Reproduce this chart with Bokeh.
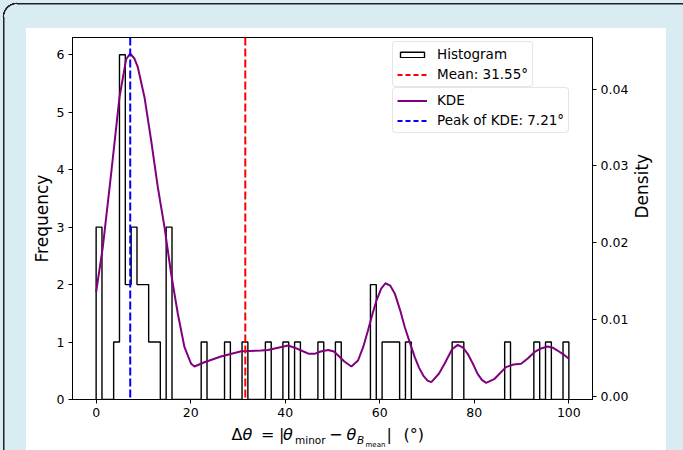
import math
import numpy as np
from bokeh.plotting import figure
from bokeh.layouts import column
from bokeh.models import (Range1d, LinearAxis, FixedTicker, NumeralTickFormatter, Span,
                          Legend, LegendItem, Div)
from bokeh.embed import file_html
from bokeh.resources import INLINE

# ---------------- data ----------------
hist_range = (0.0, 100.0)
hist_nbins = 81
hist_counts = [3, 0, 0, 1, 6, 2, 3, 2, 2, 1,
               1, 0, 3, 0, 0, 0, 0, 0, 1, 0,
               0, 0, 1, 0, 0, 1, 0, 0, 0, 1,
               0, 0, 1, 0, 1, 0, 0, 0, 1, 0,
               0, 1, 0, 0, 0, 0, 0, 2, 0, 1,
               1, 1, 0, 1, 0, 0, 0, 0, 0, 0,
               0, 1, 1, 0, 0, 0, 0, 0, 0, 0,
               1, 0, 0, 0, 0, 1, 0, 1, 0, 0,
               1]

kde_x = [0.0, 1.41, 3.17, 4.94, 6.35, 7.21, 8.1, 8.82, 10.23, 11.64, 13.05,
         14.46, 15.87, 17.28, 18.69, 20.1, 20.8, 22.9, 26.4, 30.7, 34.9,
         36.3, 38.5, 40.6, 42.0, 43.4, 45.0, 46.2, 47.5, 49.1, 50.3,
         51.2, 52.5, 54.0, 55.4, 56.5, 57.5, 58.5, 59.3, 60.3, 61.2,
         62.2, 63.2, 64.3, 65.3, 66.4, 67.4, 68.3, 69.2, 70.1, 70.9,
         72.5, 73.7, 75.3, 76.5, 77.6, 78.6, 79.7, 80.7, 81.6, 82.5,
         84.3, 86.7, 88.3, 89.9, 91.3, 92.7, 94.1, 95.5, 96.6, 97.6,
         98.9, 100.0]
kde_y = [0.01353, 0.0194, 0.02897, 0.03896, 0.04390, 0.04465, 0.04400, 0.04287, 0.03896, 0.03331, 0.02722,
         0.02201, 0.01593, 0.01072, 0.00636, 0.0042, 0.00385, 0.0044, 0.00515, 0.00584, 0.00593,
         0.0060, 0.0063, 0.00658, 0.0063, 0.00593, 0.0055, 0.0055, 0.0058, 0.0060, 0.0058,
         0.00528, 0.0045, 0.00385, 0.00463, 0.0064, 0.00854, 0.0108, 0.01245, 0.0140, 0.0147,
         0.0144, 0.01332, 0.0112, 0.00897, 0.0069, 0.00506, 0.0037, 0.00267, 0.0020, 0.0018,
         0.0029, 0.0042, 0.0061, 0.00667, 0.0063, 0.0055, 0.0042, 0.00289, 0.0021, 0.00172,
         0.00224, 0.00376, 0.0041, 0.0042, 0.0049, 0.00571, 0.0062, 0.00645, 0.0063, 0.00593,
         0.0054, 0.00485]

mean_value = 31.55
kde_peak = 7.21

x_ticks = [0, 20, 40, 60, 80, 100]
freq_ticks = [0, 1, 2, 3, 4, 5, 6]
dens_ticks = [0.0, 0.01, 0.02, 0.03, 0.04]

# ---------------- derived step outline ----------------
edges = np.linspace(hist_range[0], hist_range[1], hist_nbins + 1)
step_x = [edges[0]]
step_y = [0]
for i, c in enumerate(hist_counts):
    step_x += [edges[i], edges[i + 1]]
    step_y += [c, c]
step_x.append(edges[-1])
step_y.append(0)

FONT = "DejaVu Sans"
PAGE_BG = "#d8ecf1"
LINE = "#222222"

# frame geometry (pixels) and ranges
FL, FR, FT, FB = 72, 592, 37, 399
BOTTOM_BORDER = 24
FIG_H = FB + BOTTOM_BORDER
XR = (-5.0, 105.0)
YR = (0.0, 6.3)

p = figure(frame_width=FR - FL, frame_height=FB - FT,
           min_border_left=FL, min_border_right=683 - FR, min_border_top=FT,
           min_border_bottom=BOTTOM_BORDER,
           x_range=Range1d(*XR), y_range=Range1d(*YR),
           output_backend="svg", toolbar_location=None)
p.extra_y_ranges = {"density": Range1d(-0.000456, 0.04674)}

p.border_fill_color = None
p.background_fill_color = "white"
p.outline_line_color = "black"
p.outline_line_width = 1
p.xgrid.visible = False
p.ygrid.visible = False

# axes
p.xaxis.ticker = FixedTicker(ticks=x_ticks)
p.yaxis.ticker = FixedTicker(ticks=freq_ticks)
p.yaxis.axis_label = "Frequency"
right_axis = LinearAxis(y_range_name="density", axis_label="Density",
                        ticker=FixedTicker(ticks=dens_ticks),
                        formatter=NumeralTickFormatter(format="0.00"))
p.add_layout(right_axis, "right")

for ax in [p.xaxis[0], p.yaxis[0], right_axis]:
    ax.axis_line_color = "black"
    ax.axis_line_width = 1
    ax.major_tick_line_color = "black"
    ax.major_tick_line_width = 1
    ax.major_tick_out = 4
    ax.major_tick_in = 0
    ax.minor_tick_line_color = None
    ax.major_label_text_font = FONT
    ax.major_label_text_font_size = "12.5px"
    ax.major_label_text_color = "black"
    ax.major_label_standoff = 4
    ax.axis_label_text_font = FONT
    ax.axis_label_text_font_size = "17px"
    ax.axis_label_text_font_style = "normal"
    ax.axis_label_text_color = "black"
p.yaxis[0].axis_label_standoff = 2
right_axis.axis_label_standoff = 11
right_axis.axis_label_orientation = math.pi / 2

# histogram outline
p.line(step_x, step_y, line_color="black", line_width=1.4)

# KDE
kde_r = p.line(kde_x, kde_y, y_range_name="density", line_color="purple", line_width=2)

# vertical markers
p.add_layout(Span(location=mean_value, dimension="height", line_color="red",
                  line_dash="8 3", line_width=2))
p.add_layout(Span(location=kde_peak, dimension="height", line_color="blue",
                  line_dash="8 3", line_width=2))

# legend proxies (kept outside the visible ranges)
hist_leg = p.quad(left=[-300], right=[-299], top=[-300], bottom=[-301], fill_color="white",
                  line_color="black", line_width=1.4)
mean_leg = p.line([-300, -299], [-300, -300], line_color="red", line_dash="5 3", line_width=2)
peak_leg = p.line([-300, -299], [-300, -300], line_color="blue", line_dash="5 3", line_width=2)

def style_legend(lg, gh):
    lg.label_text_font = FONT
    lg.label_text_font_size = "13.5px"
    lg.label_text_color = "black"
    lg.glyph_width = 30
    lg.glyph_height = gh
    lg.label_height = 15
    lg.spacing = 4
    lg.padding = 4
    lg.margin = 0
    lg.label_standoff = 10
    lg.border_line_color = "#cccccc"
    lg.border_line_width = 1
    lg.background_fill_alpha = 0.8
    try:
        lg.border_radius = 4
    except Exception:
        pass

leg1 = Legend(items=[LegendItem(label="Histogram", renderers=[hist_leg]),
                     LegendItem(label="Mean: 31.55°", renderers=[mean_leg])],
              location=(320, 312))
leg2 = Legend(items=[LegendItem(label="KDE", renderers=[kde_r]),
                     LegendItem(label="Peak of KDE: 7.21°", renderers=[peak_leg])],
              location=(320, 266))
style_legend(leg1, 7)
style_legend(leg2, 15)
p.add_layout(leg1)
p.add_layout(leg2)

# x-axis label (math style) as real HTML text below the figure
BASE = 436
pieces = [
    ("Δ", 226.5, BASE, 16, "normal"),
    ("θ", 237.5, BASE, 16, "italic"),
    ("=", 256.0, BASE, 16, "normal"),
    ("|", 274.0, BASE, 16, "normal"),
    ("θ", 278.0, BASE, 16, "italic"),
    ("minor", 290.0, BASE + 3, 10.5, "normal"),
    ("−", 324.0, BASE, 16, "normal"),
    ("θ", 341.5, BASE, 16, "italic"),
    ("B", 352.0, BASE + 3, 10.5, "italic"),
    ("mean", 360.5, BASE + 6.5, 7.0, "normal"),
    ("|", 381.5, BASE, 16, "normal"),
    ("(°)", 398.5, BASE, 16, "normal"),
]
spans = "".join(
    f'<span style="position:absolute;left:{xx}px;top:{yy - FIG_H - 0.846 * fs:.2f}px;'
    f'font-size:{fs}px;line-height:{fs}px;font-style:{st};">{txt}</span>'
    for txt, xx, yy, fs, st in pieces)
label_html = (f'<div style="position:relative;width:683px;height:{450 - FIG_H}px;'
              f'font-family:\'DejaVu Sans\';color:#000;white-space:nowrap;">{spans}</div>')
xlabel = Div(text=label_html, width=683, height=450 - FIG_H, styles={"overflow": "visible"})

page_bg = ", ".join([
    f"radial-gradient(circle at 17px 17px, transparent 12.6px, {LINE} 13px, {LINE} 14.2px, transparent 14.6px) 0px 0px / 17px 17px no-repeat",
    f"linear-gradient({LINE}, {LINE}) 3px 17px / 1.5px 500px no-repeat",
    f"linear-gradient({LINE}, {LINE}) 17px 3px / 800px 1.5px no-repeat",
    "linear-gradient(#ffffff, #ffffff) 26px 28px / 640px 500px no-repeat",
    PAGE_BG,
])
layout = column(p, xlabel, spacing=0, styles={"background": page_bg})

open("out.html", "w").write(file_html(layout, INLINE))
